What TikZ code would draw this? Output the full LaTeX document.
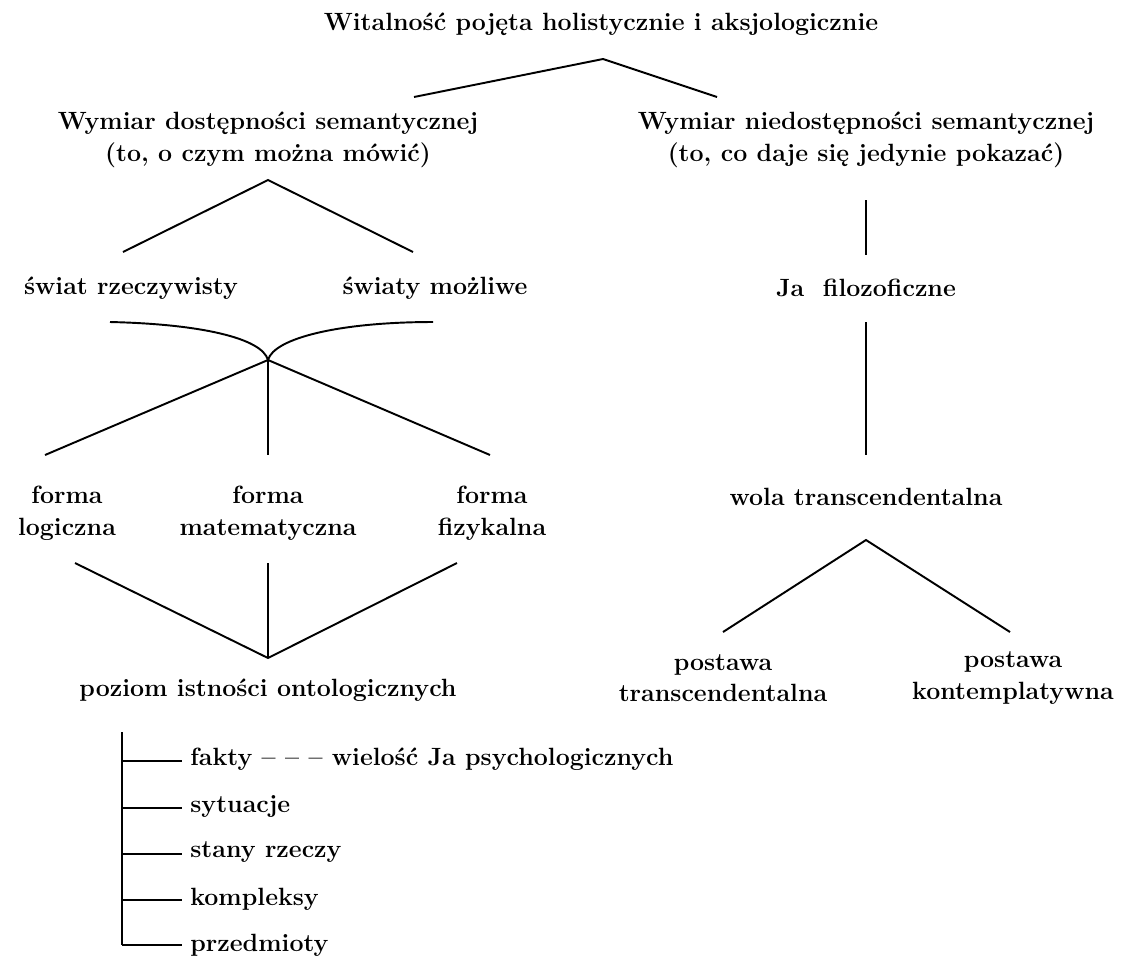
\documentclass[tikz,border=0pt]{standalone}
\begin{document}
\begin{tikzpicture}[x=0.02cm,y=-0.02cm,
  lbl/.style={font=\fontsize{14.2}{18}\selectfont\bfseries, align=center, inner sep=0pt},
  lbll/.style={font=\fontsize{14.2}{18}\selectfont\bfseries, anchor=west, inner sep=0pt},
  ln/.style={line width=1.1pt}]
\useasboundingbox (0,0) rectangle (1146,965);
% texts
\node[lbl] (title) at (601,24) {Witalność pojęta holistycznie i aksjologicznie};
\node[lbl] (dost) at (268,140) {Wymiar dostępności semantycznej\\(to, o czym można mówić)};
\node[lbl] (niedost) at (866,140) {Wymiar niedostępności semantycznej\\(to, co daje się jedynie pokazać)};
\node[lbl] (rzecz) at (131,288) {świat rzeczywisty};
\node[lbl] (mozl) at (435,288) {światy możliwe};
\node[lbl] (jafil) at (866,288) {Ja\ \ filozoficzne};
\node[lbl] (flog) at (67,513) {forma\\logiczna};
\node[lbl] (fmat) at (268,513) {forma\\matematyczna};
\node[lbl] (ffiz) at (492,513) {forma\\fizykalna};
\node[lbl] (wola) at (866,497) {wola transcendentalna};
\node[lbl] (ptrans) at (723,678) {postawa\\transcendentalna};
\node[lbl] (pkont) at (1013,678) {postawa\\kontemplatywna};
\node[lbl] (poziom) at (268,690) {poziom istności ontologicznych};
\node[lbl] (i1) at (190,759) [lbll] {fakty – – – wielość Ja psychologicznych};
\node[lbl] (i2) at (190,806) [lbll] {sytuacje};
\node[lbl] (i3) at (190,852) [lbll] {stany rzeczy};
\node[lbl] (i4) at (190,899) [lbll] {kompleksy};
\node[lbl] (i5) at (190,945) [lbll] {przedmioty};
% coordinates
\coordinate (a1) at (603,59);
\coordinate (a1l) at (414,97);
\coordinate (a1r) at (717,97);
\coordinate (a2) at (268,180);
\coordinate (a2l) at (123,252);
\coordinate (a2r) at (413,252);
\coordinate (r1t) at (866,200);
\coordinate (r1b) at (866,255);
\coordinate (cl) at (110,322);
\coordinate (cr) at (433,322);
\coordinate (cm) at (268,360);
\coordinate (fl) at (45,455);
\coordinate (fm) at (268,455);
\coordinate (fr) at (490,455);
\coordinate (r2t) at (866,322);
\coordinate (r2b) at (866,455);
\coordinate (a3) at (866,540);
\coordinate (a3l) at (723,632);
\coordinate (a3r) at (1010,632);
\coordinate (gl) at (75,563);
\coordinate (gm) at (268,563);
\coordinate (gr) at (457,563);
\coordinate (g) at (268,658);
\coordinate (bt) at (122,732);
\coordinate (bb) at (122,945);
\foreach \i/\y in {1/761,2/808,3/854,4/900,5/945}{
  \coordinate (h\i) at (122,\y);
  \coordinate (e\i) at (182,\y);
}
% lines
\draw[ln] (a1l) -- (a1) -- (a1r);
\draw[ln] (a2l) -- (a2) -- (a2r);
\draw[ln] (r1t) -- (r1b);
\draw[ln] (cl) .. controls (200,324) and (262,338) .. (cm);
\draw[ln] (cm) .. controls (274,338) and (340,322) .. (cr);
\draw[ln] (fl) -- (cm) -- (fr);
\draw[ln] (cm) -- (fm);
\draw[ln] (r2t) -- (r2b);
\draw[ln] (a3l) -- (a3) -- (a3r);
\draw[ln] (gl) -- (g) -- (gr);
\draw[ln] (gm) -- (g);
\draw[ln] (bt) -- (bb);
\foreach \i in {1,...,5}{\draw[ln] (h\i) -- (e\i);}
\end{tikzpicture}
\end{document}
